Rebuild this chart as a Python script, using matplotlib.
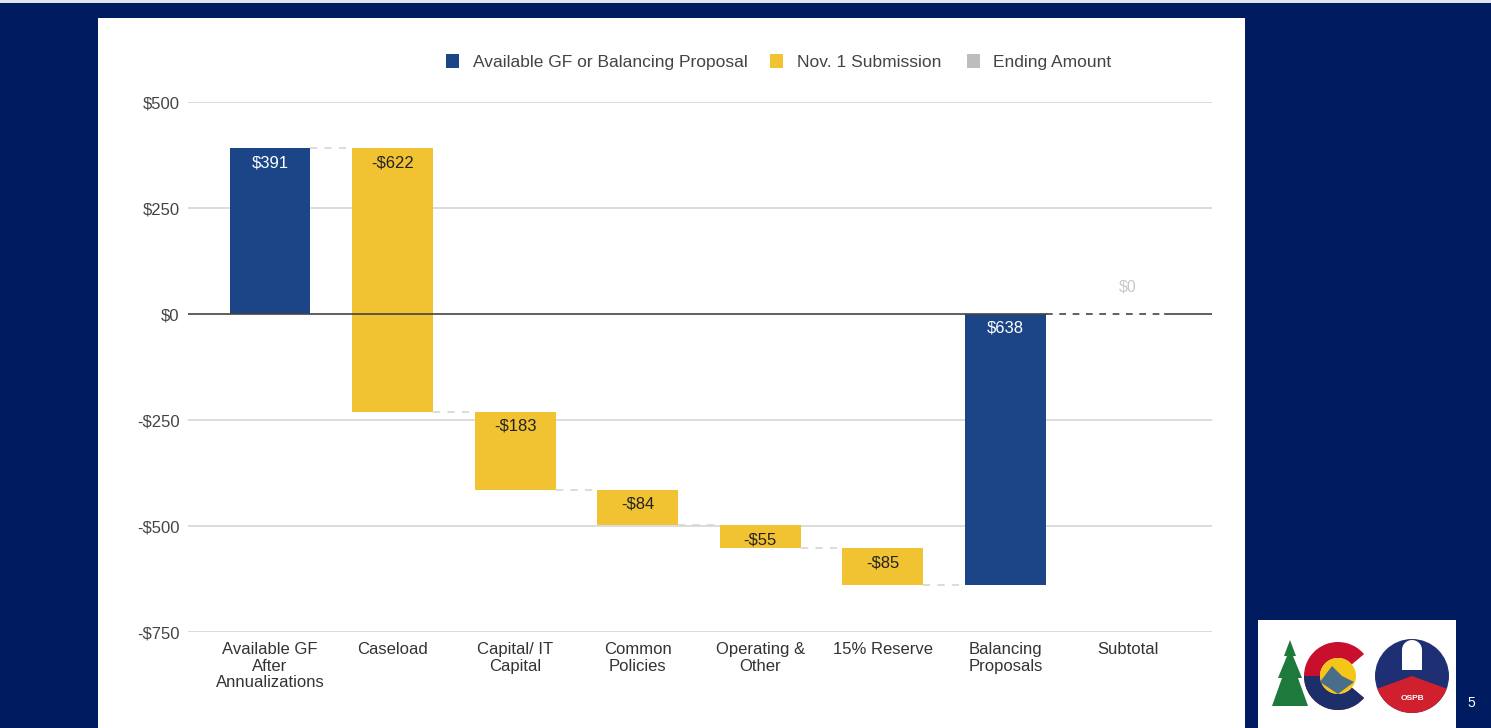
import matplotlib
matplotlib.use("Agg")
import matplotlib.pyplot as plt
from matplotlib.patches import Rectangle, Wedge, Circle, Polygon

plt.rcParams['font.family'] = ['Liberation Sans', 'DejaVu Sans']

categories = ["Available GF\nAfter\nAnnualizations", "Caseload", "Capital/ IT\nCapital",
              "Common\nPolicies", "Operating &\nOther", "15% Reserve",
              "Balancing\nProposals", "Subtotal"]
changes = [391, -622, -183, -84, -55, -85, 638, 0]
kinds = ["avail", "nov", "nov", "nov", "nov", "nov", "avail", "end"]
bar_labels = ["$391", "-$622", "-$183", "-$84", "-$55", "-$85", "$638", "$0"]
yticks = [500, 250, 0, -250, -500, -750]
ytick_labels = ["$500", "$250", "$0", "-$250", "-$500", "-$750"]
legend_names = ["Available GF or Balancing Proposal", "Nov. 1 Submission", "Ending Amount"]

colors = {"avail": "#1c4587", "nov": "#f1c232", "end": "#bdbdbd"}
label_colors = {"avail": "white", "nov": "#222222", "end": "#c8c8c8"}
NAVY = "#011b61"
W, H = 1491, 728

fig = plt.figure(figsize=(W / 100, H / 100), dpi=100, facecolor=NAVY)
# top light strip
fig.patches.append(Rectangle((0, (H - 3) / H), 1, 3 / H, transform=fig.transFigure,
                             facecolor="#dfe3ee", edgecolor="none", zorder=-2))
# white panel
fig.patches.append(Rectangle((98 / W, 0), (1245 - 98) / W, (H - 18) / H, transform=fig.transFigure,
                             facecolor="white", edgecolor="none", zorder=-2))
fig.patches.append(Rectangle((1258 / W, 0), (1456 - 1258) / W, (728 - 620) / H,
                             transform=fig.transFigure, facecolor="white", edgecolor="none", zorder=-2))

ax = fig.add_axes([188 / W, (H - 632) / H, (1212 - 188) / W, (632 - 102) / H])
ax.set_zorder(5)
ax.set_facecolor("none")
ax.set_xlim(-0.669, 7.685)
ax.set_ylim(-750, 500)

bw = 0.66
level = 0
ends = []
for i, (c, k) in enumerate(zip(changes, kinds)):
    if k == "end":
        bottom, top = 0, level
    elif i == 0:
        bottom, top = 0, c
    else:
        bottom, top = level, level + c
    ax.bar(i, top - bottom, bottom=bottom, width=bw, color=colors[k], zorder=3)
    if k != "end":
        level = level + c if i > 0 else c
    ends.append(level)
    if k == "end":
        ax.annotate(bar_labels[i], (i, level), xytext=(0, 14), textcoords="offset points",
                    ha="center", va="bottom", fontsize=11.5, color=label_colors[k], zorder=5)
    else:
        upper = max(bottom, top)
        ax.annotate(bar_labels[i], (i, upper), xytext=(0, -5), textcoords="offset points",
                    ha="center", va="top", fontsize=12, color=label_colors[k], zorder=5)

# grid
for y in yticks:
    if y != 0:
        ax.axhline(y, color="#d6d6d6", lw=1.2, zorder=1)
# zero line: solid except under the final connector
ax.plot([-0.669, 6 + bw / 2], [0, 0], color="#444444", lw=1.2, zorder=4)
ax.plot([6 + bw / 2, 7 + 0.3], [0, 0], color="#444444", lw=1.2, ls=(0, (4, 4)), zorder=4)
ax.plot([7 + 0.3, 7.685], [0, 0], color="#444444", lw=1.2, zorder=4)

# connectors
for i in range(len(changes) - 2):
    ax.plot([i + bw / 2, i + 1 - bw / 2], [ends[i], ends[i]], color="#d9d9d9",
            lw=1.3, ls=(0, (4, 4)), zorder=2)

for s in ax.spines.values():
    s.set_visible(False)
ax.set_yticks(yticks)
ax.set_yticklabels(ytick_labels, fontsize=12, color="#444444")
ax.set_xticks(range(len(categories)))
ax.set_xticklabels(categories, fontsize=12, color="#333333", linespacing=1.15)
ax.tick_params(axis="both", length=0)
ax.tick_params(axis="y", pad=6)
ax.tick_params(axis="x", pad=7)

# legend
leg_sq_x = [446, 770, 967]
leg_tx_x = [473, 797, 993]
for k, sx, tx, name in zip(["avail", "nov", "end"], leg_sq_x, leg_tx_x, legend_names):
    fig.patches.append(Rectangle((sx / W, (H - 68) / H), 13 / W, 14 / H, transform=fig.transFigure,
                                 facecolor=colors[k], edgecolor="none", zorder=2))
    fig.text(tx / W, (H - 61) / H, name, fontsize=12.5, color="#444444",
             va="center_baseline", ha="left")

# logo (approximate)
lax = fig.add_axes([1258 / W, 0, (1456 - 1258) / W, (728 - 620) / H])
lax.set_zorder(6)
lax.set_facecolor("white")
lax.set_xlim(0, 198)
lax.set_ylim(0, 108)
lax.axis("off")
lax.add_patch(Polygon([[14, 22], [24, 50], [20, 50], [29, 72], [26, 72], [32, 88],
                       [38, 72], [35, 72], [44, 50], [40, 50], [50, 22]],
                      closed=True, facecolor="#1e7a3c", edgecolor="none"))
lax.add_patch(Wedge((80, 52), 34, 40, 320, width=16, facecolor="#c8102e"))
lax.add_patch(Wedge((80, 52), 34, 180, 320, width=16, facecolor="#1c2f6b"))
lax.add_patch(Circle((80, 52), 18, facecolor="#f5c518"))
lax.add_patch(Polygon([[62, 46], [74, 62], [84, 52], [96, 46], [80, 34]], closed=True,
                      facecolor="#4a6e8a", edgecolor="none"))
lax.add_patch(Circle((154, 52), 37, facecolor="#1f2f73"))
lax.add_patch(Wedge((154, 52), 37, 200, 340, facecolor="#d0202e"))
lax.add_patch(Rectangle((144, 58), 20, 20, facecolor="white", edgecolor="none"))
lax.add_patch(Wedge((154, 78), 10, 0, 180, facecolor="white"))
lax.text(154, 30, "OSPB", ha="center", va="center", fontsize=6, color="white", fontweight="bold")
fig.text(1471 / W, (H - 703) / H, "5", color="white", fontsize=10, ha="center", va="center")

fig.savefig("out.png", dpi=100, facecolor=NAVY)
